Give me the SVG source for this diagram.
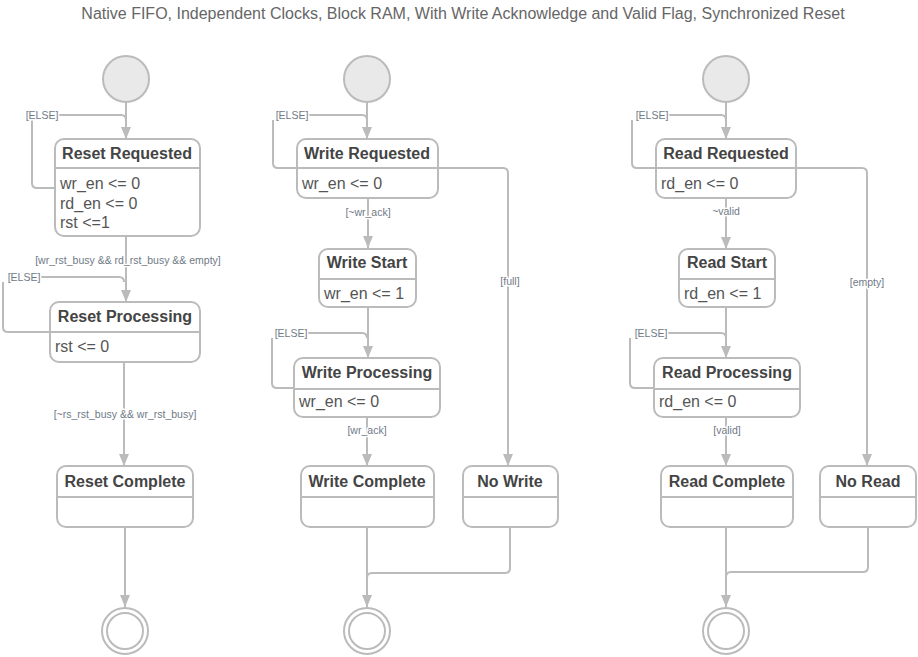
<svg xmlns="http://www.w3.org/2000/svg" width="918" height="657" viewBox="0 0 918 657">
<style>
.box{fill:#fff;stroke:#bbb;stroke-width:2}
.sep{stroke:#bbb;stroke-width:2}
.tt{font-family:"Liberation Sans",Arial,sans-serif;font-size:16px;font-weight:bold;fill:#444;text-anchor:middle}
.bd{font-family:"Liberation Sans",Arial,sans-serif;font-size:16px;fill:#555}
.lbl{font-family:"Liberation Sans",Arial,sans-serif;font-size:10.5px;fill:#6f7a86;text-anchor:middle;stroke:#fff;stroke-width:3px;paint-order:stroke;stroke-linejoin:round}
.ln{fill:none;stroke:#bbb;stroke-width:2}
.init{fill:#e9e9e9;stroke:#bbb;stroke-width:2}
.fo{fill:#fff;stroke:#bbb;stroke-width:2}
.fi{fill:#fff;stroke:#bbb;stroke-width:2}
</style>
<defs>
<marker id="ah" viewBox="0 0 12 12" refX="12" refY="6" markerWidth="12" markerHeight="12" markerUnits="userSpaceOnUse" orient="auto">
<path d="M0,1 L12,6 L0,11 z" fill="#bbb"/>
</marker>
</defs>
<rect width="918" height="657" fill="#fff"/>
<text x="463" y="19" font-family="'Liberation Sans',Arial,sans-serif" font-size="16" fill="#666" text-anchor="middle">Native FIFO, Independent Clocks, Block RAM, With Write Acknowledge and Valid Flag, Synchronized Reset</text>

<g id="connectors">
<!-- left -->
<path class="ln" d="M126,102 V139" marker-end="url(#ah)"/>
<path class="ln" d="M58,115 H121 Q126,115 126,120"/>
<path class="ln" d="M32,120 V183 Q32,188 37,188 H55"/>
<path class="ln" d="M126,236 V302" marker-end="url(#ah)"/>
<path class="ln" d="M40,277 H119 Q124,277 124,282"/>
<path class="ln" d="M3,282 V327 Q3,332 8,332 H50"/>
<path class="ln" d="M124,362 V466" marker-end="url(#ah)"/>
<path class="ln" d="M125,527 V607" marker-end="url(#ah)"/>
<!-- middle -->
<path class="ln" d="M367,102 V139" marker-end="url(#ah)"/>
<path class="ln" d="M309,115 H362 Q367,115 367,120"/>
<path class="ln" d="M273,120 V163 Q273,168 278,168 H297"/>
<path class="ln" d="M368,198 V248" marker-end="url(#ah)"/>
<path class="ln" d="M438,168 H503 Q508,168 508,173 V466" marker-end="url(#ah)"/>
<path class="ln" d="M368,307 V358" marker-end="url(#ah)"/>
<path class="ln" d="M308,333 H362 Q367,333 367,338"/>
<path class="ln" d="M272,338 V383 Q272,388 277,388 H294"/>
<path class="ln" d="M367,417 V466" marker-end="url(#ah)"/>
<path class="ln" d="M367,527 V607" marker-end="url(#ah)"/>
<path class="ln" d="M510,527 V568 Q510,573 505,573 H372 Q367,573 367,578"/>
<!-- right -->
<path class="ln" d="M726,102 V139" marker-end="url(#ah)"/>
<path class="ln" d="M668,115 H721 Q726,115 726,120"/>
<path class="ln" d="M632,120 V163 Q632,168 637,168 H656"/>
<path class="ln" d="M726,198 V249" marker-end="url(#ah)"/>
<path class="ln" d="M796,168 H862 Q867,168 867,173 V466" marker-end="url(#ah)"/>
<path class="ln" d="M726,307 V358" marker-end="url(#ah)"/>
<path class="ln" d="M667,333 H721 Q726,333 726,338"/>
<path class="ln" d="M630,338 V383 Q630,388 635,388 H654"/>
<path class="ln" d="M726,417 V466" marker-end="url(#ah)"/>
<path class="ln" d="M726,527 V607" marker-end="url(#ah)"/>
<path class="ln" d="M868,527 V567 Q868,572 863,572 H731 Q726,572 726,577"/>
<!-- labels -->
<text class="lbl" x="42" y="119">[ELSE]</text>
<text class="lbl" x="128" y="264">[wr_rst_busy &amp;&amp; rd_rst_busy &amp;&amp; empty]</text>
<text class="lbl" x="24" y="281">[ELSE]</text>
<text class="lbl" x="125" y="418">[~rs_rst_busy &amp;&amp; wr_rst_busy]</text>
<text class="lbl" x="292" y="119">[ELSE]</text>
<text class="lbl" x="368" y="216">[~wr_ack]</text>
<text class="lbl" x="510" y="285">[full]</text>
<text class="lbl" x="291" y="337">[ELSE]</text>
<text class="lbl" x="367" y="434">[wr_ack]</text>
<text class="lbl" x="652" y="119">[ELSE]</text>
<text class="lbl" x="726" y="215">~valid</text>
<text class="lbl" x="867" y="286">[empty]</text>
<text class="lbl" x="651" y="337">[ELSE]</text>
<text class="lbl" x="727" y="434">[valid]</text>
</g>

<g id="init-reset"><circle class="init" cx="126" cy="79" r="23"/></g>
<g id="reset-requested">
<rect class="box" x="55" y="139" width="145" height="97" rx="9"/>
<line class="sep" x1="55" y1="168" x2="200" y2="168"/>
<text class="tt" x="127" y="159">Reset Requested</text>
<text class="bd" x="60" y="189">wr_en &lt;= 0</text>
<text class="bd" x="60" y="209">rd_en &lt;= 0</text>
<text class="bd" x="60" y="228">rst &lt;=1</text>
</g>
<g id="reset-processing">
<rect class="box" x="50" y="302" width="150" height="60" rx="9"/>
<line class="sep" x1="50" y1="332" x2="200" y2="332"/>
<text class="tt" x="125" y="322">Reset Processing</text>
<text class="bd" x="55" y="352">rst &lt;= 0</text>
</g>
<g id="reset-complete">
<rect class="box" x="57" y="466" width="136" height="61" rx="9"/>
<line class="sep" x1="57" y1="497" x2="193" y2="497"/>
<text class="tt" x="125" y="487">Reset Complete</text>
</g>
<g id="final-reset"><circle class="fo" cx="125" cy="631" r="23"/><circle class="fi" cx="125" cy="631" r="18"/></g>

<g id="init-write"><circle class="init" cx="367" cy="79" r="23"/></g>
<g id="write-requested">
<rect class="box" x="297" y="139" width="141" height="59" rx="9"/>
<line class="sep" x1="297" y1="168" x2="438" y2="168"/>
<text class="tt" x="367" y="159">Write Requested</text>
<text class="bd" x="302" y="189">wr_en &lt;= 0</text>
</g>
<g id="write-start">
<rect class="box" x="319" y="249" width="97" height="58" rx="9"/>
<line class="sep" x1="319" y1="279" x2="416" y2="279"/>
<text class="tt" x="367" y="268">Write Start</text>
<text class="bd" x="324" y="299">wr_en &lt;= 1</text>
</g>
<g id="write-processing">
<rect class="box" x="294" y="358" width="146" height="59" rx="9"/>
<line class="sep" x1="294" y1="389" x2="440" y2="389"/>
<text class="tt" x="367" y="378">Write Processing</text>
<text class="bd" x="299" y="407">wr_en &lt;= 0</text>
</g>
<g id="write-complete">
<rect class="box" x="301" y="466" width="133" height="61" rx="9"/>
<line class="sep" x1="301" y1="497" x2="434" y2="497"/>
<text class="tt" x="367" y="487">Write Complete</text>
</g>
<g id="no-write">
<rect class="box" x="463" y="466" width="95" height="61" rx="9"/>
<line class="sep" x1="463" y1="497" x2="558" y2="497"/>
<text class="tt" x="510" y="487">No Write</text>
</g>
<g id="final-write"><circle class="fo" cx="367" cy="631" r="23"/><circle class="fi" cx="367" cy="631" r="18"/></g>

<g id="init-read"><circle class="init" cx="726" cy="79" r="23"/></g>
<g id="read-requested">
<rect class="box" x="656" y="139" width="140" height="59" rx="9"/>
<line class="sep" x1="656" y1="168" x2="796" y2="168"/>
<text class="tt" x="726" y="159">Read Requested</text>
<text class="bd" x="661" y="189">rd_en &lt;= 0</text>
</g>
<g id="read-start">
<rect class="box" x="679" y="249" width="96" height="58" rx="9"/>
<line class="sep" x1="679" y1="279" x2="775" y2="279"/>
<text class="tt" x="727" y="268">Read Start</text>
<text class="bd" x="684" y="299">rd_en &lt;= 1</text>
</g>
<g id="read-processing">
<rect class="box" x="654" y="358" width="146" height="59" rx="9"/>
<line class="sep" x1="654" y1="389" x2="800" y2="389"/>
<text class="tt" x="727" y="378">Read Processing</text>
<text class="bd" x="659" y="407">rd_en &lt;= 0</text>
</g>
<g id="read-complete">
<rect class="box" x="661" y="466" width="132" height="61" rx="9"/>
<line class="sep" x1="661" y1="497" x2="793" y2="497"/>
<text class="tt" x="727" y="487">Read Complete</text>
</g>
<g id="no-read">
<rect class="box" x="820" y="466" width="96" height="61" rx="9"/>
<line class="sep" x1="820" y1="497" x2="916" y2="497"/>
<text class="tt" x="868" y="487">No Read</text>
</g>
<g id="final-read"><circle class="fo" cx="726" cy="631" r="23"/><circle class="fi" cx="726" cy="631" r="18"/></g>
</svg>
